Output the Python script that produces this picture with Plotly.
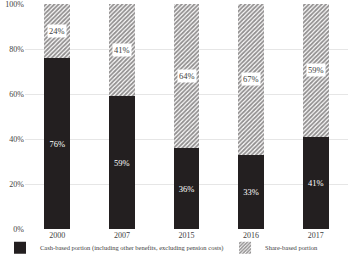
import plotly.graph_objects as go

years = ["2000", "2007", "2015", "2016", "2017"]
cash = [76, 59, 36, 33, 41]
share = [24, 41, 64, 67, 59]

FONT = "Liberation Serif"
TXT = "#404040"
fig = go.Figure()
fig.add_trace(go.Bar(
    x=years, y=cash, name="Cash-based portion (including other benefits, excluding pension costs)",
    marker=dict(color="#231f20", line=dict(width=0)),
    text=[f"{v}%" for v in cash], textposition="inside", insidetextanchor="middle",
    textfont=dict(color="white", size=8.5, family=FONT), width=0.4, legend="legend",
))
fig.add_trace(go.Bar(
    x=years, y=share, name="Share-based portion",
    marker=dict(color="white", line=dict(width=0),
                pattern=dict(shape="/", fgcolor="#231f20", bgcolor="white", size=3, solidity=0.6)),
    width=0.4, legend="legend2",
))
for i, (c, s) in enumerate(zip(cash, share)):
    fig.add_annotation(x=i, y=c + s / 2, text=f"{s}%", showarrow=False,
                       bgcolor="white", borderpad=1,
                       font=dict(color=TXT, size=8.5, family=FONT))

leg = dict(orientation="h", yref="container", xref="container", y=0.028, yanchor="middle",
           xanchor="left", font=dict(size=6.5, family=FONT, color=TXT), itemwidth=30,
           bgcolor="rgba(0,0,0,0)")
fig.update_layout(
    barmode="stack", width=350, height=255,
    margin=dict(l=25, r=2, t=4, b=26),
    plot_bgcolor="white", paper_bgcolor="white",
    font=dict(family=FONT, size=9, color=TXT),
    showlegend=True,
    legend=dict(leg, x=0.0),
    legend2=dict(leg, x=0.643),
    bargap=0.6,
)
fig.update_yaxes(range=[0, 100], dtick=20, ticksuffix="%", showgrid=True,
                 gridcolor="#e6e6e6", zeroline=False, automargin=False,
                 tickfont=dict(size=8, family=FONT, color=TXT),
                 ticks="", fixedrange=True, ticklabeloverflow="allow")
fig.update_xaxes(type="category", showgrid=False, showline=False, automargin=False,
                 tickfont=dict(size=8, family=FONT, color=TXT))
fig.write_html("out.html", config={"displayModeBar": False},
               post_script="document.body.style.margin='0';")
